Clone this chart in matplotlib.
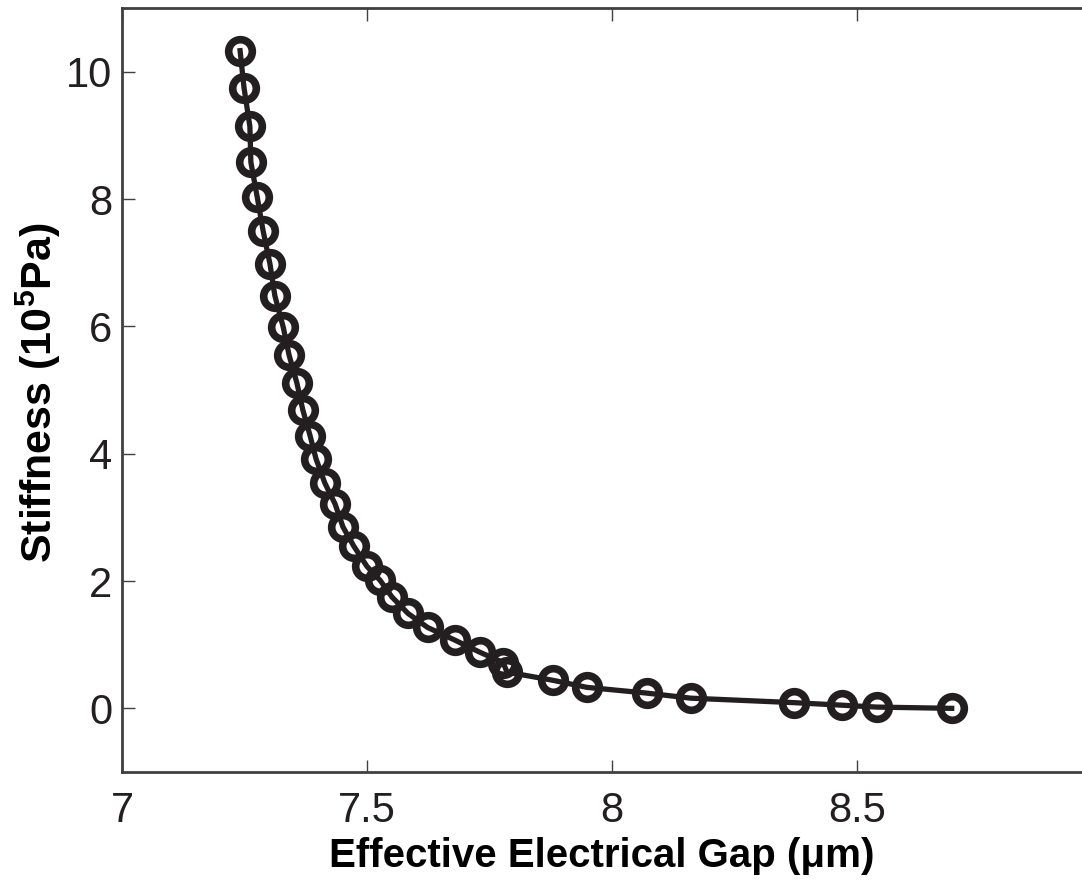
import numpy as np
import matplotlib.pyplot as plt

gap = [7.241, 7.249, 7.261, 7.263, 7.276, 7.288, 7.302, 7.312, 7.329, 7.341,
       7.357, 7.369, 7.384, 7.396, 7.414, 7.435, 7.451, 7.473, 7.500, 7.527,
       7.551, 7.584, 7.624, 7.680, 7.731, 7.778, 7.786, 7.880, 7.949, 8.071,
       8.161, 8.371, 8.469, 8.541, 8.694]
stiffness = [10.33, 9.75, 9.14, 8.58, 8.03, 7.50, 6.98, 6.48, 5.99, 5.55,
             5.11, 4.69, 4.28, 3.92, 3.54, 3.21, 2.85, 2.55, 2.23, 2.01,
             1.75, 1.49, 1.27, 1.07, 0.88, 0.72, 0.57, 0.44, 0.33, 0.24,
             0.16, 0.09, 0.05, 0.02, 0.00]
xticks = [7, 7.5, 8, 8.5]
yticks = [0, 2, 4, 6, 8, 10]

plt.rcParams['font.family'] = ['Liberation Sans', 'DejaVu Sans']
plt.rcParams['mathtext.fontset'] = 'custom'
plt.rcParams['mathtext.rm'] = 'Liberation Sans'
plt.rcParams['mathtext.bf'] = 'Liberation Sans:bold'

fig = plt.figure(figsize=(10.82, 8.8), dpi=100)
ax = fig.add_axes([0.1128, 0.1227, 0.8872, 0.8682])

col = "#231f20"
ax.plot(gap, stiffness, color=col, lw=3.8, marker="o", markersize=17,
        markerfacecolor="none", markeredgecolor=col, markeredgewidth=5.5)

ax.set_xlim(7, 8.96)
ax.set_ylim(-1, 11)
ax.set_xticks(xticks)
ax.set_xticklabels(["7", "7.5", "8", "8.5"])
ax.set_yticks(yticks)
ax.tick_params(direction="in", length=9, width=1, top=True, labelsize=30,
               colors="#404040", labelcolor="#231f20")
ax.tick_params(axis="x", pad=14)
ax.tick_params(axis="y", pad=7)
for s in ["left", "bottom", "top"]:
    ax.spines[s].set_linewidth(2)
    ax.spines[s].set_color("#404040")
ax.spines["right"].set_visible(False)

ax.set_xlabel("Effective Electrical Gap (\u03bcm)", fontsize=29,
              fontweight="bold", labelpad=4)
ax.set_ylabel("Stiffness (10$^{\\mathbf{5}}$Pa)", fontsize=31, fontweight="bold")
ax.yaxis.set_label_coords(-0.062, 0.497)

fig.savefig("out.png", dpi=100)
